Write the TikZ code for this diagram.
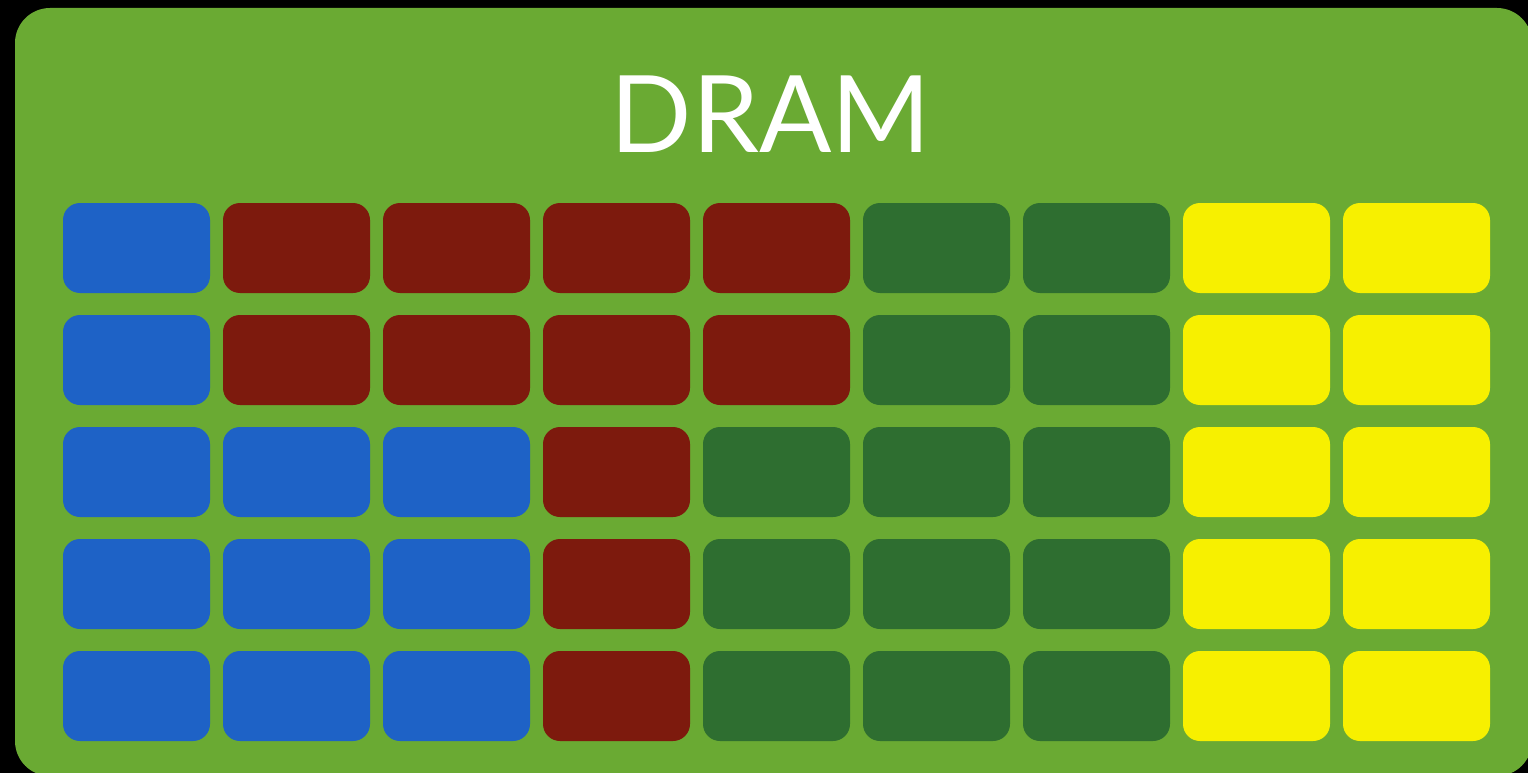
\documentclass[tikz,border=0pt]{standalone}
\usepackage{fontspec}
\setmainfont{Lato}
\definecolor{bggreen}{HTML}{6AAA33}
\definecolor{cblue}{HTML}{1E62C6}
\definecolor{cred}{HTML}{7D1A0D}
\definecolor{cgreen}{HTML}{2E6E30}
\definecolor{cyellow}{HTML}{F7F000}
\begin{document}
\begin{tikzpicture}[x=1pt,y=-1pt,
  cell/.style={rectangle,minimum width=147pt,minimum height=90pt,inner sep=0pt,rounded corners=17pt}]
\useasboundingbox (0,0) rectangle (1528,773);
\clip (0,0) rectangle (1528,773);
\fill[black] (0,0) rectangle (1528,773);
\fill[bggreen,rounded corners=35pt] (15,8) rectangle (1532,776);
\node[anchor=base,text=white,font=\fontsize{107}{107}\selectfont,inner sep=0pt] (title) at (771,153) {DRAM};
\foreach \row/\cols in {0/{cblue,cred,cred,cred,cred,cgreen,cgreen,cyellow,cyellow},
                       1/{cblue,cred,cred,cred,cred,cgreen,cgreen,cyellow,cyellow},
                       2/{cblue,cblue,cblue,cred,cgreen,cgreen,cgreen,cyellow,cyellow},
                       3/{cblue,cblue,cblue,cred,cgreen,cgreen,cgreen,cyellow,cyellow},
                       4/{cblue,cblue,cblue,cred,cgreen,cgreen,cgreen,cyellow,cyellow}}{
  \foreach \c [count=\i from 0] in \cols {
    \node[cell,fill=\c] (c-\row-\i) at ({136.5+160*\i},{248+112*\row}) {};
  }
}
\end{tikzpicture}
\end{document}
